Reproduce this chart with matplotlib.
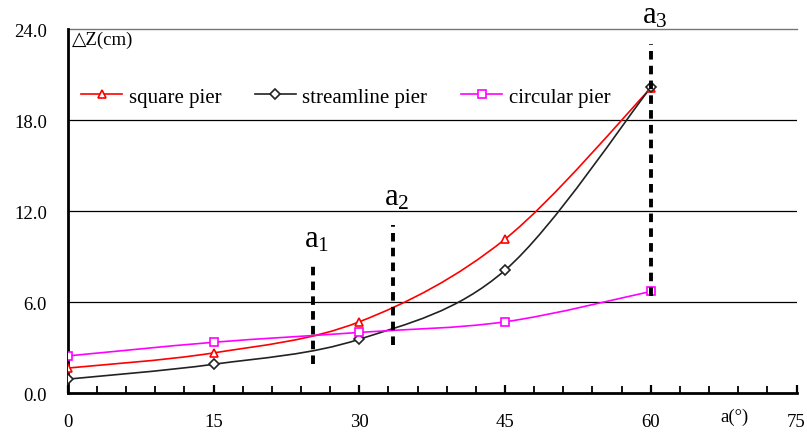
import numpy as np
import matplotlib.pyplot as plt
from matplotlib.path import Path
from matplotlib.patches import PathPatch
from matplotlib.lines import Line2D
from matplotlib.ticker import MultipleLocator, FormatStrFormatter

angle = [0, 15, 30, 45, 60]
square_pier = [1.65, 2.65, 4.7, 10.15, 20.1]
streamline_pier = [0.92, 1.9, 3.55, 8.1, 20.15]
circular_pier = [2.45, 3.35, 4.0, 4.7, 6.7]

mark_x = [25.2, 33.5, 60]
mark_names = ['1', '2', '3']
mark_lo = [1.9, 3.2, 6.4]
mark_hi = [8.5, 11.1, 23.0]
mark_text_y = [9.2, 11.95, 23.95]

plt.rcParams['font.family'] = ['Liberation Serif', 'DejaVu Serif']
plt.rcParams['mathtext.fontset'] = 'custom'
plt.rcParams['mathtext.rm'] = 'Liberation Serif'
plt.rcParams['mathtext.it'] = 'Liberation Serif:italic'


def smooth_path(x, y):
    # excel-like smoothed line through the points (cubic bezier segments)
    pts = np.column_stack([x, y]).astype(float)
    n = len(pts)
    verts = [pts[0]]
    codes = [Path.MOVETO]
    for i in range(n - 1):
        p0 = pts[max(i - 1, 0)]
        p1 = pts[i]
        p2 = pts[i + 1]
        p3 = pts[min(i + 2, n - 1)]
        verts += [p1 + (p2 - p0) / 6, p2 - (p3 - p1) / 6, p2]
        codes += [Path.CURVE4] * 3
    return Path(verts, codes)


fig = plt.figure(figsize=(8.07, 4.35), dpi=100)
ax = fig.add_axes([0.084, 0.094, 0.903, 0.837])
ax.set_xlim(0, 75)
ax.set_ylim(0, 24)

series = [
    (square_pier, 'red', '^', 'square pier'),
    (streamline_pier, '#222222', 'D', 'streamline pier'),
    (circular_pier, 'magenta', 's', 'circular pier'),
]
handles = []
for vals, col, mk, name in series:
    ax.add_patch(PathPatch(smooth_path(angle, vals), fc='none', ec=col, lw=1.2, zorder=3))
    ms = 5 if mk == 'D' else 6
    ax.plot(angle, vals, ls='none', marker=mk, ms=ms, mfc='white', mec=col, mew=1.2, zorder=4)
    handles.append(Line2D([], [], color=col, lw=1.2, marker=mk, ms=ms, mfc='white', mec=col, mew=1.2))

for y in [6, 12, 18]:
    ax.axhline(y, color='black', lw=0.9, zorder=1)
ax.axhline(24, color='#777777', lw=1.0, zorder=1, clip_on=False)

for xm, nm, lo, hi, ty in zip(mark_x, mark_names, mark_lo, mark_hi, mark_text_y):
    ax.plot([xm, xm], [lo, hi], color='black', lw=2.8, ls=(0, (2.2, 1.6)), zorder=5, clip_on=False)
    ax.text(xm + 0.4, ty, 'a$_{' + nm + '}$', fontsize=22, ha='center', va='bottom', zorder=6,
            clip_on=False)

ax.spines['top'].set_visible(False)
ax.spines['right'].set_visible(False)
ax.spines['left'].set_linewidth(2)
ax.spines['bottom'].set_linewidth(2)

ax.xaxis.set_major_locator(MultipleLocator(15))
ax.xaxis.set_minor_locator(MultipleLocator(3))
ax.yaxis.set_major_locator(MultipleLocator(6))
ax.yaxis.set_major_formatter(FormatStrFormatter('%.1f'))
ax.tick_params(axis='x', which='major', direction='in', length=6, width=1.6, pad=14, labelsize=13.5)
ax.tick_params(axis='x', which='minor', direction='in', length=5, width=1.3)
ax.tick_params(axis='y', length=0, pad=15, labelsize=13.5)

ax.text(0.4, 23.3, '△Z(cm)', fontsize=13.5, ha='left', va='center')
ax.text(68.6, -1.55, 'a(°)', fontsize=13.5, ha='center', va='center', clip_on=False)

ax.legend(handles, [s[3] for s in series], loc='upper left', bbox_to_anchor=(-0.008, 0.892),
          ncol=3, frameon=False, fontsize=15, handlelength=2.0, columnspacing=1.6,
          handletextpad=0.3)

fig.savefig('out.png', dpi=100)
